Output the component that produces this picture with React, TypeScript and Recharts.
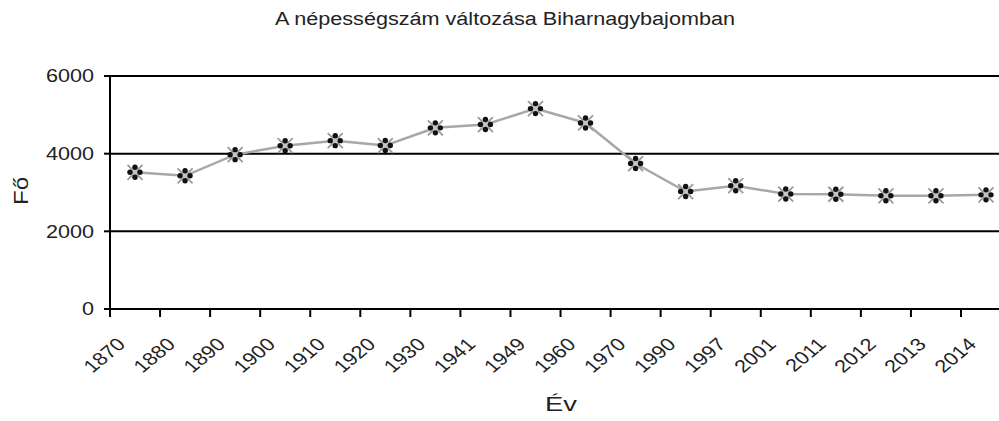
import React from "react";
import { LineChart, Line, XAxis, YAxis, CartesianGrid } from "recharts";

const years = ["1870","1880","1890","1900","1910","1920","1930","1941","1949","1960","1970","1990","1997","2001","2011","2012","2013","2014"];
const population = [3520,3430,3975,4205,4335,4210,4665,4750,5160,4790,3745,3025,3175,2960,2955,2915,2915,2940];
const yTicks = [0,2000,4000,6000];

const data = years.map((y, i) => ({ year: y, pop: population[i] }));

const FONT = "'Liberation Sans', Arial, sans-serif";
const SX = 1.2;
const HALF_BAND = 25;

const StarDot = (props: any) => {
  const { cx, cy, index } = props;
  if (cx == null || cy == null) return null;
  const d = 7.5;
  const o = 5;
  return (
    <g key={`d${index}`}>
      <line x1={cx - d} y1={cy - d} x2={cx + d} y2={cy + d} stroke="#9a9a9a" strokeWidth={1.8} />
      <line x1={cx - d} y1={cy + d} x2={cx + d} y2={cy - d} stroke="#9a9a9a" strokeWidth={1.8} />
      <circle cx={cx} cy={cy} r={3.2} fill="#c4c4c4" />
      <circle cx={cx} cy={cy - o} r={2.7} fill="#111" />
      <circle cx={cx} cy={cy + o} r={2.7} fill="#111" />
      <circle cx={cx - o} cy={cy} r={2.7} fill="#111" />
      <circle cx={cx + o} cy={cy} r={2.7} fill="#111" />
    </g>
  );
};

const XTick = (props: any) => {
  const { x, y, payload } = props;
  const axisY = y - 8;
  const tx = x - 14;
  const ty = axisY + 32;
  return (
    <g>
      <line x1={x - HALF_BAND} y1={axisY} x2={x - HALF_BAND} y2={axisY + 8} stroke="#000" strokeWidth={2} />
      <text
        x={0}
        y={0}
        textAnchor="end"
        dominantBaseline="central"
        transform={`translate(${tx} ${ty}) scale(${SX} 1) rotate(-45)`}
        fontFamily={FONT}
        fontSize={18}
        fill="#222"
      >
        {payload.value}
      </text>
    </g>
  );
};

const YTick = (props: any) => {
  const { x, y, payload } = props;
  return (
    <text
      x={0}
      y={0}
      textAnchor="end"
      dominantBaseline="central"
      transform={`translate(${x} ${y}) scale(${SX} 1)`}
      fontFamily={FONT}
      fontSize={18}
      fill="#222"
    >
      {payload.value}
    </text>
  );
};

export default function App() {
  return (
    <div style={{ position: "absolute", left: 0, top: 0, width: 999, height: 421, overflow: "hidden", background: "#fff" }}>
      <div style={{ position: "absolute", left: 0, top: 0, width: 1020, height: 421 }}>
        <LineChart width={1020} height={421} data={data} margin={{ top: 76, right: 9, bottom: 0, left: 0 }}>
          <CartesianGrid vertical={false} stroke="#000" strokeWidth={2} />
          <XAxis
            dataKey="year"
            height={112}
            interval={0}
            padding={{ left: HALF_BAND, right: HALF_BAND }}
            tickLine={false}
            axisLine={{ stroke: "#000", strokeWidth: 2 }}
            tick={<XTick />}
          />
          <YAxis
            width={110}
            domain={[0, 6000]}
            ticks={yTicks}
            interval={0}
            axisLine={{ stroke: "#000", strokeWidth: 2 }}
            tickLine={{ stroke: "#000", strokeWidth: 2 }}
            tickSize={6}
            tickMargin={10}
            tick={<YTick />}
          />
          <Line
            type="linear"
            dataKey="pop"
            stroke="#a8a8a8"
            strokeWidth={2.5}
            dot={<StarDot />}
            activeDot={false}
            isAnimationActive={false}
          />
        </LineChart>
      </div>
      <div style={{ position: "absolute", left: 0, width: 1010, top: 9, textAlign: "center", fontFamily: FONT, fontSize: 18, color: "#222", transform: `scaleX(${SX})`, transformOrigin: "505px 0" }}>
        A népességszám változása Biharnagybajomban
      </div>
      <div style={{ position: "absolute", left: 8, top: 178, width: 26, height: 26, fontFamily: FONT, fontSize: 20, color: "#222", transform: `rotate(-90deg) scaleX(${SX})`, textAlign: "center", lineHeight: "26px" }}>
        Fő
      </div>
      <div style={{ position: "absolute", left: 531, top: 392, width: 60, textAlign: "center", fontFamily: FONT, fontSize: 21, color: "#222", transform: `scaleX(1.3)` }}>
        Év
      </div>
    </div>
  );
}
